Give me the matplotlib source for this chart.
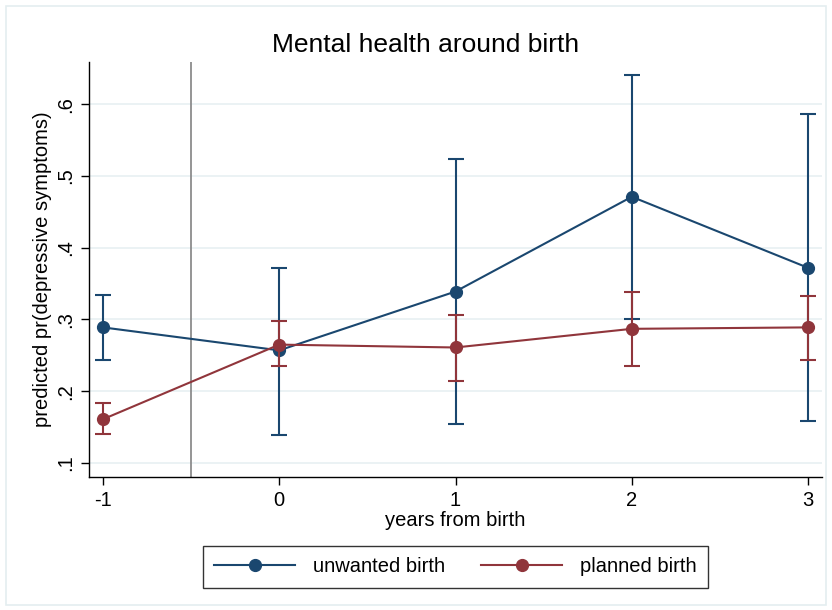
import matplotlib.pyplot as plt
from matplotlib.patches import Rectangle

plt.rcParams['font.family'] = ['Liberation Sans', 'DejaVu Sans']

# --- data ---
years = [-1, 0, 1, 2, 3]

unwanted = [0.289, 0.257, 0.339, 0.471, 0.372]
unwanted_lo = [0.244, 0.139, 0.154, 0.301, 0.158]
unwanted_hi = [0.334, 0.372, 0.524, 0.640, 0.586]

planned = [0.161, 0.265, 0.261, 0.287, 0.289]
planned_lo = [0.140, 0.235, 0.214, 0.235, 0.243]
planned_hi = [0.183, 0.298, 0.306, 0.338, 0.333]

yticks = [0.1, 0.2, 0.3, 0.4, 0.5, 0.6]
ytick_labels = ['.1', '.2', '.3', '.4', '.5', '.6']

NAVY = '#1a476f'
MAROON = '#90353b'

fig = plt.figure(figsize=(8.32, 6.10), dpi=100)
ax = fig.add_axes([0.107, 0.218, 0.881, 0.680])

# light outer frame like Stata's graph region
fig.patches.append(Rectangle((0.007, 0.008), 0.986, 0.982, transform=fig.transFigure,
                             fill=False, edgecolor='#e4eef0', linewidth=1.2))

for yt in yticks:
    ax.axhline(yt, color='#e8f0f2', linewidth=1.2, zorder=0)

ax.axvline(-0.5, color='#8c8c8c', linewidth=1.3, zorder=1)

def draw(vals, lo, hi, color, label, z):
    err = [[v - l for v, l in zip(vals, lo)], [h - v for v, h in zip(vals, hi)]]
    ax.errorbar(years, vals, yerr=err, fmt='none', ecolor=color, elinewidth=1.5,
                capsize=5.5, capthick=1.5, zorder=z)
    ax.plot(years, vals, color=color, linewidth=1.5, marker='o', markersize=8.5,
            label=label, zorder=z + 0.5)

draw(unwanted, unwanted_lo, unwanted_hi, NAVY, 'unwanted birth', 2)
draw(planned, planned_lo, planned_hi, MAROON, 'planned birth', 3)

ax.set_xlim(-1.079, 3.079)
ax.set_ylim(0.0805, 0.6585)
ax.set_xticks(years)
ax.set_xticklabels([str(y) for y in years], fontsize=14.5)
ax.set_yticks(yticks)
ax.set_yticklabels(ytick_labels, fontsize=14.5, rotation=90, va='center')
ax.tick_params(direction='out', length=6, width=1, colors='black', pad=4)

for side in ['top', 'right']:
    ax.spines[side].set_visible(False)
ax.spines['left'].set_linewidth(1)
ax.spines['bottom'].set_linewidth(1)

ax.set_xlabel('years from birth', fontsize=14.5, labelpad=1)
ax.set_ylabel('predicted pr(depressive symptoms)', fontsize=14.5, labelpad=3)
fig.text(0.511, 0.915, 'Mental health around birth', ha='center', va='baseline', fontsize=19)

leg = ax.legend(loc='upper center', bbox_to_anchor=(0.5, -0.143), ncol=2, fontsize=14.5,
                frameon=True, fancybox=False, edgecolor='black', columnspacing=1.8,
                handlelength=4.0, borderpad=0.55, handletextpad=0.9)
leg.get_frame().set_linewidth(1)

fig.savefig('out.png', dpi=100)
